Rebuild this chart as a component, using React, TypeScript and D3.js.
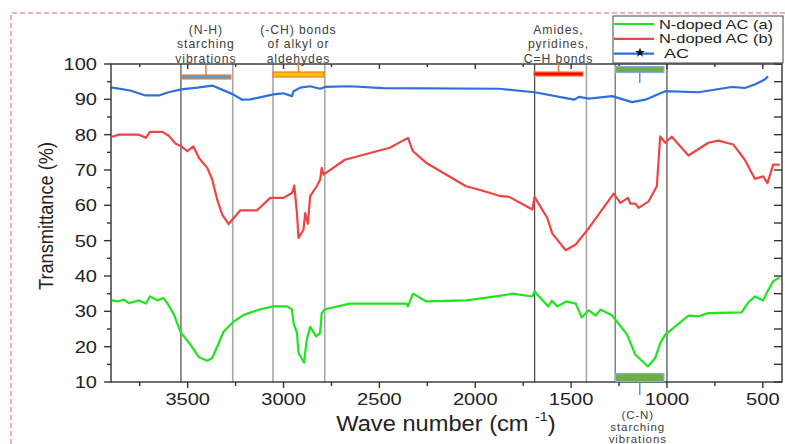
import * as d3 from 'd3';
import React, { useEffect, useRef } from 'react';

// FTIR spectra, wave number (cm-1) vs transmittance (%)
const acWave = [3900, 3800, 3720, 3650, 3600, 3533, 3450, 3372, 3263, 3216, 3173, 3052, 3002, 2956, 2948, 2913, 2861, 2809, 2784, 2654, 2482, 1875, 1691, 1485, 1459, 1407, 1286, 1182, 1113, 1009, 836, 663, 594, 542, 490, 473];
const acTrans = [93.4, 92.5, 91.1, 91.1, 92.0, 92.8, 93.3, 93.9, 91.4, 89.9, 90.0, 91.4, 91.7, 90.9, 92.3, 93.3, 93.7, 93.0, 93.5, 93.7, 93.2, 93.0, 92.0, 89.9, 90.7, 90.2, 90.9, 89.2, 89.9, 92.3, 92.0, 93.5, 93.2, 94.2, 95.6, 96.5];

const bWave = [3895, 3858, 3755, 3718, 3697, 3632, 3599, 3562, 3533, 3502, 3471, 3441, 3398, 3372, 3346, 3320, 3286, 3225, 3138, 3069, 3000, 2956, 2944, 2930, 2922, 2896, 2887, 2873, 2861, 2827, 2809, 2801, 2792, 2680, 2446, 2351, 2325, 2255, 2048, 1979, 1875, 1823, 1702, 1691, 1624, 1598, 1528, 1476, 1407, 1278, 1243, 1203, 1191, 1165, 1148, 1096, 1053, 1035, 1009, 975, 888, 784, 732, 654, 594, 542, 498, 476, 446, 412];
const bTrans = [79.4, 80.0, 80.0, 79.1, 80.8, 80.8, 79.7, 77.4, 76.7, 75.3, 76.7, 73.4, 70.6, 67.3, 61.6, 57.4, 54.7, 58.6, 58.6, 62.1, 62.1, 63.5, 65.6, 57.8, 50.8, 53.1, 57.8, 54.8, 62.6, 65.4, 67.3, 70.6, 68.7, 72.9, 76.3, 79.1, 75.3, 72.0, 65.4, 64.4, 62.7, 62.4, 58.8, 62.4, 56.4, 52.0, 47.3, 48.9, 53.6, 63.3, 60.7, 62.1, 60.5, 60.5, 59.3, 61.1, 65.4, 79.5, 77.7, 79.4, 74.1, 77.7, 78.3, 77.2, 72.9, 67.5, 68.2, 66.3, 71.5, 71.5];

const aWave = [3895, 3865, 3832, 3807, 3755, 3718, 3697, 3657, 3628, 3606, 3571, 3536, 3485, 3441, 3398, 3372, 3312, 3260, 3208, 3121, 3052, 2982, 2956, 2948, 2930, 2922, 2893, 2879, 2861, 2830, 2809, 2801, 2784, 2654, 2359, 2351, 2325, 2255, 2048, 1979, 1875, 1806, 1702, 1691, 1619, 1601, 1572, 1525, 1476, 1445, 1407, 1372, 1347, 1286, 1208, 1165, 1099, 1061, 1035, 1009, 888, 836, 784, 611, 576, 542, 498, 480, 446, 412];
const aTrans = [33.1, 32.8, 33.3, 32.3, 33.1, 32.2, 34.2, 33.1, 33.8, 32.3, 29.0, 24.0, 20.5, 17.0, 16.0, 16.8, 24.3, 27.1, 29.0, 30.6, 31.4, 31.4, 30.5, 26.7, 23.9, 18.2, 15.5, 22.0, 25.6, 22.9, 23.9, 29.5, 30.6, 32.2, 32.2, 31.4, 35.0, 32.8, 33.1, 33.6, 34.4, 35.0, 34.2, 35.6, 31.4, 33.0, 31.4, 32.8, 32.2, 28.3, 30.3, 28.8, 30.5, 28.8, 23.4, 17.7, 14.4, 16.8, 21.0, 23.4, 28.8, 28.6, 29.5, 29.7, 32.5, 34.2, 33.1, 35.2, 38.5, 39.6];

const xTicks = [3500, 3000, 2500, 2000, 1500, 1000, 500];
const yTicks = [10, 20, 30, 40, 50, 60, 70, 80, 90, 100];

const seriesNames = ['N-doped AC (a)', 'N-doped AC (b)', 'AC'];
const seriesColors = ['#1fe51f', '#ee4444', '#2f6fdc'];

// band markers (wave number)
const darkLines = [3535, 1690, 1000];
const grayLines = [3265, 3055, 2785, 1420];
const midLines = [1270];

const bands = [
  { from: 3535, to: 3275, fill: '#5b9bd5', stroke: '#ed7d31', y0: 75, y1: 79, lines: ['(N-H)', 'starching', 'vibrations'] },
  { from: 3055, to: 2789, fill: '#ffc000', stroke: '#ed7d31', y0: 72, y1: 77, lines: ['(-CH) bonds', 'of  alkyl or', 'aldehydes'] },
  { from: 1694, to: 1438, fill: '#ff0000', stroke: '#ed7d31', y0: 72, y1: 76, lines: ['Amides,', 'pyridines,', 'C=H bonds'] },
];
const cnLines = ['(C-N)', 'starching', 'vibrations'];

export default function App() {
  const ref = useRef<SVGSVGElement | null>(null);

  useEffect(() => {
    const svg = d3.select(ref.current);
    svg.selectAll('*').remove();

    const left = 111, right = 782, top = 64, bottom = 382;
    const x = d3.scaleLinear().domain([3900, 400]).range([left, right]);
    const y = d3.scaleLinear().domain([10, 100]).range([bottom, top]);

    // dashed frame of the figure
    svg.append('path')
      .attr('d', `M11,444 V13 H785`)
      .attr('fill', 'none')
      .attr('stroke', '#e39a9a')
      .attr('stroke-width', 1.5)
      .attr('stroke-dasharray', '5,3');

    // vertical guide lines
    const vline = (v: number, color: string, w: number) =>
      svg.append('line')
        .attr('x1', x(v)).attr('x2', x(v))
        .attr('y1', top).attr('y2', bottom)
        .attr('stroke', color).attr('stroke-width', w);
    grayLines.forEach(v => vline(v, '#a8a8a8', 1.6));
    midLines.forEach(v => vline(v, '#666', 1.2));
    darkLines.forEach(v => vline(v, '#222', 1));

    // spectra
    const line = d3.line<[number, number]>()
      .x(d => x(d[0]))
      .y(d => y(d[1]));
    const data = [
      d3.zip(aWave, aTrans),
      d3.zip(bWave, bTrans),
      d3.zip(acWave, acTrans),
    ] as [number, number][][];
    data.forEach((pts, i) => {
      svg.append('path')
        .attr('d', line(pts) as string)
        .attr('fill', 'none')
        .attr('stroke', seriesColors[i])
        .attr('stroke-width', 2.2)
        .attr('stroke-linejoin', 'round');
    });

    // axes box
    svg.append('rect')
      .attr('x', left).attr('y', top)
      .attr('width', right - left).attr('height', bottom - top)
      .attr('fill', 'none').attr('stroke', '#333').attr('stroke-width', 1.4);

    const tickG = svg.append('g').attr('stroke', '#333').attr('stroke-width', 1.4);
    // y ticks (left outward, right inward)
    d3.range(10, 100.1, 5).forEach(v => {
      const major = v % 10 === 0;
      tickG.append('line').attr('x1', left - (major ? 7 : 4)).attr('x2', left).attr('y1', y(v)).attr('y2', y(v));
      tickG.append('line').attr('x1', right - 8).attr('x2', right).attr('y1', y(v)).attr('y2', y(v));
    });
    // x ticks (bottom outward, top inward)
    d3.range(500, 3900, 250).forEach(v => {
      const major = v % 500 === 0;
      tickG.append('line').attr('x1', x(v)).attr('x2', x(v)).attr('y1', bottom).attr('y2', bottom + (major ? 6 : 4));
      tickG.append('line').attr('x1', x(v)).attr('x2', x(v)).attr('y1', top).attr('y2', top + (major ? 5 : 3));
    });

    // the figure's lettering is slightly stretched sideways
    const font = 'Liberation Sans, Arial, sans-serif';
    yTicks.forEach(v => {
      svg.append('text')
        .attr('transform', `translate(97,${y(v)}) scale(1.18,1)`)
        .attr('dy', '0.35em')
        .attr('text-anchor', 'end')
        .attr('font-family', font).attr('font-size', 17).attr('fill', '#222')
        .text(v);
    });
    xTicks.forEach(v => {
      svg.append('text')
        .attr('transform', `translate(${x(v)},405) scale(1.18,1)`)
        .attr('text-anchor', 'middle')
        .attr('font-family', font).attr('font-size', 17).attr('fill', '#222')
        .text(v);
    });

    // axis titles
    svg.append('text')
      .attr('transform', `translate(53,216) rotate(-90)`)
      .attr('text-anchor', 'middle')
      .attr('font-family', font).attr('font-size', 20).attr('fill', '#222')
      .attr('textLength', 148).attr('lengthAdjust', 'spacingAndGlyphs')
      .text('Transmittance (%)');

    const xl = svg.append('text')
      .attr('transform', 'translate(446,431) scale(1.1,1)')
      .attr('text-anchor', 'middle')
      .attr('font-family', font).attr('font-size', 21.5).attr('fill', '#222');
    xl.append('tspan').text('Wave number (cm ');
    xl.append('tspan').attr('font-size', 13).attr('dy', -10).text('-1');
    xl.append('tspan').attr('dy', 10).text(')');

    // band annotations
    const annText = (t: string, cx: number, ty: number, size = 12.2) =>
      svg.append('text')
        .attr('x', cx).attr('y', ty)
        .attr('text-anchor', 'middle')
        .attr('font-family', font).attr('font-size', size).attr('letter-spacing', 0.9)
        .attr('fill', '#404040')
        .text(t);

    bands.forEach(b => {
      const x0 = x(b.from), x1 = x(b.to), cx = (x0 + x1) / 2;
      svg.append('line').attr('x1', cx).attr('x2', cx).attr('y1', b.y0 - 10).attr('y2', b.y0)
        .attr('stroke', '#ed7d31').attr('stroke-width', 1.5);
      svg.append('rect').attr('x', x0).attr('y', b.y0).attr('width', x1 - x0).attr('height', b.y1 - b.y0)
        .attr('fill', b.fill).attr('stroke', b.stroke).attr('stroke-width', 1.2);
      b.lines.forEach((t, i) => annText(t, cx, 34 + i * 14.3));
    });

    // (C-N) band, top and bottom markers
    const cn0 = x(1268), cn1 = x(1016), cnx = (cn0 + cn1) / 2;
    svg.append('rect').attr('x', cn0).attr('y', 66.5).attr('width', cn1 - cn0).attr('height', 6)
      .attr('fill', '#70ad47').attr('stroke', '#7fb0e0').attr('stroke-width', 1.2);
    svg.append('line').attr('x1', cnx).attr('x2', cnx).attr('y1', 72.5).attr('y2', 83)
      .attr('stroke', '#5b9bd5').attr('stroke-width', 1.5);
    svg.append('rect').attr('x', cn0).attr('y', 373.5).attr('width', cn1 - cn0).attr('height', 8)
      .attr('fill', '#70ad47').attr('stroke', '#7fb0e0').attr('stroke-width', 1.2);
    svg.append('line').attr('x1', cnx).attr('x2', cnx).attr('y1', 381.5).attr('y2', 395)
      .attr('stroke', '#5b9bd5').attr('stroke-width', 1.5);
    cnLines.forEach((t, i) => annText(t, cnx - 2, 418.5 + i * 12, 11.5));

    // legend
    const lg = svg.append('g');
    lg.append('rect').attr('x', 613).attr('y', 16).attr('width', 170).attr('height', 47)
      .attr('fill', '#fff').attr('stroke', '#444').attr('stroke-width', 1);
    seriesNames.forEach((name, i) => {
      const ly = 24 + i * 14.8;
      lg.append('line').attr('x1', 614).attr('x2', 654).attr('y1', ly).attr('y2', ly)
        .attr('stroke', seriesColors[i]).attr('stroke-width', 2.2);
      lg.append('text')
        .attr('x', i === 2 ? 664 : 659).attr('y', ly).attr('dy', '0.36em')
        .attr('font-family', font).attr('font-size', 13).attr('fill', '#222')
        .attr('textLength', i === 2 ? 25 : 114).attr('lengthAdjust', 'spacingAndGlyphs')
        .text(name);
    });
    lg.append('path')
      .attr('d', d3.symbol(d3.symbolStar, 30)() as string)
      .attr('transform', `translate(640,${24 + 2 * 14.8 - 1})`)
      .attr('fill', '#111');
  }, []);

  return (
    <svg
      ref={ref}
      width={785}
      height={444}
      style={{ position: 'absolute', left: 0, top: 0, background: '#fff' }}
    />
  );
}
